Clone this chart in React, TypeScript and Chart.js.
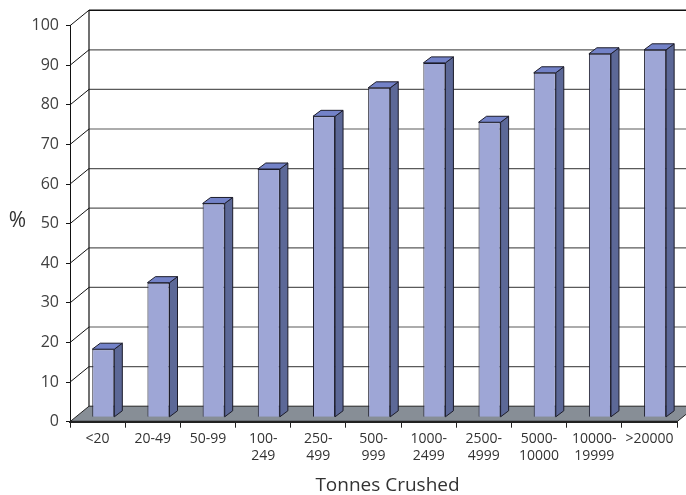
import React, { useEffect, useRef } from "react";
import { Chart, registerables } from "chart.js";

Chart.register(...registerables);

const categories: (string | string[])[] = [
  "<20",
  "20-49",
  "50-99",
  ["100-", "249"],
  ["250-", "499"],
  ["500-", "999"],
  ["1000-", "2499"],
  ["2500-", "4999"],
  ["5000-", "10000"],
  ["10000-", "19999"],
  ">20000",
];
const percentValues: number[] = [17.2, 34, 54, 62.7, 76, 83.2, 89.5, 74.5, 87, 91.8, 92.8];
const yTickMin = 0;
const yTickMax = 100;
const yTickStep = 10;
const xAxisTitle = "Tonnes Crushed";
const yAxisTitle = "%";

const FONT = "'Open Sans', 'DejaVu Sans', sans-serif";
const DX = 19; // wall depth
const DY = -15.5;
const BX = 5.7; // bar offset into depth
const BY = -4.4;
const BDX = 8; // bar depth
const BDY = -6;

const threeD = {
  id: "threeD",
  beforeDatasetsDraw(chart: any) {
    const { ctx, chartArea: a, scales } = chart;
    const y = scales.y;
    const y0 = y.getPixelForValue(yTickMin);
    const yTop = y.getPixelForValue(yTickMax);
    const W = chart.width;
    ctx.save();
    y.ticks.forEach((t: any) => {
      const yf = y.getPixelForValue(t.value);
      const yb = yf + DY;
      if (t.value !== yTickMin) {
        ctx.beginPath();
        ctx.strokeStyle = t.value === yTickMax ? "#111" : "#5a5a5a";
        ctx.lineWidth = t.value === yTickMax ? 1.4 : 1.2;
        ctx.moveTo(a.left + DX, yb);
        ctx.lineTo(W, yb);
        ctx.stroke();
        ctx.beginPath();
        ctx.strokeStyle = "#111";
        ctx.lineWidth = 1;
        ctx.moveTo(a.left, yf);
        ctx.lineTo(a.left + DX, yb);
        ctx.stroke();
      }
    });
    ctx.beginPath();
    ctx.strokeStyle = "#111";
    ctx.lineWidth = 1.2;
    ctx.moveTo(a.left + DX, yTop + DY);
    ctx.lineTo(a.left + DX, y0 + DY);
    ctx.stroke();
    ctx.beginPath();
    ctx.moveTo(a.left, y0);
    ctx.lineTo(a.right, y0);
    ctx.lineTo(a.right + DX, y0 + DY);
    ctx.lineTo(a.left + DX, y0 + DY);
    ctx.closePath();
    ctx.fillStyle = "#878e96";
    ctx.fill();
    ctx.strokeStyle = "#222";
    ctx.lineWidth = 1;
    ctx.stroke();
    ctx.beginPath();
    ctx.lineWidth = 2;
    ctx.moveTo(a.left, y0);
    ctx.lineTo(a.right, y0);
    ctx.stroke();
    ctx.restore();

    ctx.save();
    ctx.translate(BX, BY);
  },
  afterDatasetsDraw(chart: any) {
    const { ctx, chartArea: a } = chart;
    const meta = chart.getDatasetMeta(0);
    meta.data.forEach((el: any) => {
      const p = el.getProps(["x", "y", "base", "width"], true);
      const l = p.x - p.width / 2;
      const r = p.x + p.width / 2;
      const top = Math.min(p.y, p.base);
      const bot = Math.max(p.y, p.base);
      ctx.lineWidth = 1;
      ctx.strokeStyle = "#1c1c2a";
      ctx.beginPath();
      ctx.moveTo(r, top);
      ctx.lineTo(r + BDX, top + BDY);
      ctx.lineTo(r + BDX, bot + BDY);
      ctx.lineTo(r, bot);
      ctx.closePath();
      ctx.fillStyle = "#5c6897";
      ctx.fill();
      ctx.stroke();
      ctx.beginPath();
      ctx.moveTo(l, top);
      ctx.lineTo(l + BDX, top + BDY);
      ctx.lineTo(r + BDX, top + BDY);
      ctx.lineTo(r, top);
      ctx.closePath();
      ctx.fillStyle = "#7382c8";
      ctx.fill();
      ctx.stroke();
    });
    ctx.restore();

    ctx.save();
    ctx.fillStyle = "#333";
    ctx.textAlign = "center";
    ctx.textBaseline = "alphabetic";
    ctx.font = `19px ${FONT}`;
    ctx.fillText(xAxisTitle, (a.left + a.right) / 2 + 14, 491);
    ctx.font = `21px ${FONT}`;
    ctx.textBaseline = "middle";
    ctx.fillText(yAxisTitle, 17.5, 221);
    ctx.restore();
  },
};

export default function App() {
  const ref = useRef<HTMLCanvasElement | null>(null);
  useEffect(() => {
    if (!ref.current) return;
    const chart = new Chart(ref.current, {
      type: "bar",
      data: {
        labels: categories as any,
        datasets: [
          {
            data: percentValues,
            backgroundColor: "#9ea6d6",
            borderColor: "#1c1c2a",
            borderWidth: 1,
            barPercentage: 0.4,
            categoryPercentage: 1,
          },
        ],
      },
      options: {
        responsive: false,
        animation: false,
        layout: { padding: { top: 25.7, right: 9, left: 0, bottom: 0 } },
        plugins: { legend: { display: false }, tooltip: { enabled: false }, title: { display: false } },
        datasets: { bar: { clip: false } } as any,
        scales: {
          x: {
            grid: { drawOnChartArea: false, drawTicks: true, tickLength: 6, color: "#222", offset: true },
            border: { display: true, color: "#222", width: 2 },
            ticks: {
              color: "#333",
              font: { family: FONT, size: 14, lineHeight: 1.2 },
              padding: 3,
              maxRotation: 0,
              autoSkip: false,
            },
            afterFit: (s: any) => {
              s.height = 73.3;
            },
          },
          y: {
            min: yTickMin,
            max: yTickMax,
            grid: { drawOnChartArea: false, drawTicks: true, tickLength: 4, color: "#111" },
            border: { display: true, color: "#111", width: 1 },
            ticks: {
              stepSize: yTickStep,
              color: "#404040",
              font: { family: FONT, size: 16 },
              padding: 7,
            },
            afterFit: (s: any) => {
              s.width = 70;
            },
          },
        },
      },
      plugins: [threeD],
    });
    return () => chart.destroy();
  }, []);
  return (
    <div style={{ position: "fixed", left: 0, top: 0, width: 686, height: 495, background: "#fff" }}>
      <canvas ref={ref} width={686} height={495} />
    </div>
  );
}
